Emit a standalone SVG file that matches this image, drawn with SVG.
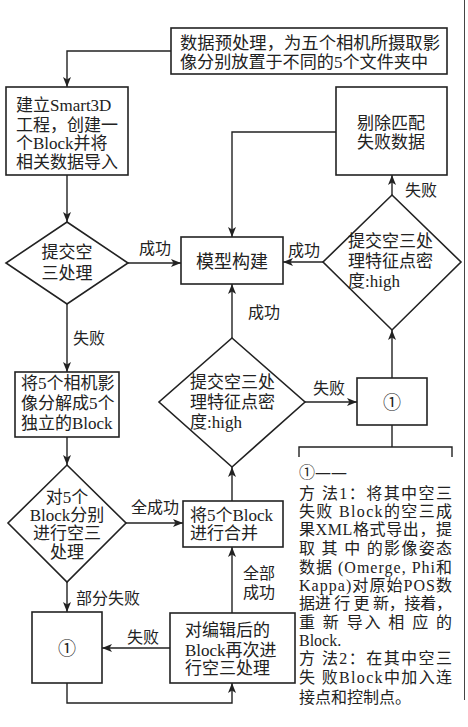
<svg xmlns="http://www.w3.org/2000/svg" width="468" height="727" viewBox="0 0 468 727">
<defs>
<marker id="ah" viewBox="0 0 10 8" refX="10" refY="4" markerWidth="10" markerHeight="8" markerUnits="userSpaceOnUse" orient="auto">
<path d="M0,0 L10,4 L0,8 L2.5,4 Z" fill="#222"/>
</marker>
<style>
.n{fill:#fff;stroke:#222;stroke-width:1.6}
.c{fill:none;stroke:#222;stroke-width:1.4}
.a{marker-end:url(#ah)}
text{font-family:"Liberation Serif","Noto Sans CJK SC",serif;font-size:17px;fill:#222}
.m{text-anchor:middle}
.l{font-size:16px}
.s{font-size:16px}
</style>
</defs>
<rect width="468" height="727" fill="#fff"/>
<line x1="464.5" y1="0" x2="464.5" y2="700" stroke="#444" stroke-width="1"/>

<g id="connectors">
<path class="c a" d="M171,51 H67 V87"/>
<path class="c a" d="M67,175 V222"/>
<path class="c a" d="M128,263 H181"/>
<path class="c a" d="M67,304 V372"/>
<path class="c a" d="M67,437 V465"/>
<path class="c a" d="M126,523 H183"/>
<path class="c a" d="M67,582 V612"/>
<path class="c a" d="M170,648 H102"/>
<path class="c a" d="M67,683 V703 H232 V683"/>
<path class="c a" d="M232,613 V547"/>
<path class="c a" d="M232,501 V467"/>
<path class="c a" d="M232,338 V284"/>
<path class="c a" d="M305,402 H357"/>
<path class="c a" d="M392,378 V330"/>
<path class="c a" d="M323,262 H283"/>
<path class="c a" d="M392,195 V175"/>
<path class="c a" d="M336,132 H232 V237"/>
<path class="c" d="M392,425 V447 M299,457 V447 H452 V457"/>
<text class="s" x="139" y="254">成功</text>
<text class="s" x="288" y="256">成功</text>
<text class="s" x="405" y="196">失败</text>
<text class="s" x="248" y="318">成功</text>
<text class="s" x="73" y="344">失败</text>
<text class="s" x="313" y="394">失败</text>
<text class="s" x="131" y="513">全成功</text>
<text class="s" x="76" y="604">部分失败</text>
<text class="s" x="127" y="643">失败</text>
<text class="s" x="243" y="579">全部</text>
<text class="s" x="243" y="598">成功</text>
</g>

<g id="n_pre">
<rect class="n" x="171" y="28" width="276" height="46"/>
<text x="180" y="49" textLength="260" lengthAdjust="spacingAndGlyphs">数据预处理，为五个相机所摄取影</text>
<text x="180" y="68" textLength="248" lengthAdjust="spacingAndGlyphs">像分别放置于不同的5个文件夹中</text>
</g>

<g id="n_create">
<rect class="n" x="6" y="87" width="122" height="88"/>
<text x="16" y="111">建立Smart3D</text>
<text x="16" y="131">工程，创建一</text>
<text x="16" y="149">个Block并将</text>
<text x="16" y="168">相关数据导入</text>
</g>

<g id="n_remove">
<rect class="n" x="336" y="87" width="111" height="88"/>
<text class="m" x="391" y="129">剔除匹配</text>
<text class="m" x="391" y="148">失败数据</text>
</g>

<g id="n_d1">
<polygon class="n" points="67,222 128,263 67,304 6,263"/>
<text class="m" x="67" y="258">提交空</text>
<text class="m" x="67" y="279">三处理</text>
</g>

<g id="n_model">
<rect class="n" x="181" y="237" width="102" height="47"/>
<text class="m" x="232" y="268" style="font-size:18px">模型构建</text>
</g>

<g id="n_d2">
<polygon class="n" points="392,195 461,262 392,330 323,262"/>
<text x="348" y="247">提交空三处</text>
<text x="348" y="267">理特征点密</text>
<text x="348" y="287">度:high</text>
</g>

<g id="n_split">
<rect class="n" x="15" y="372" width="104" height="65"/>
<text x="21" y="389">将5个相机影</text>
<text x="21" y="409">像分解成5个</text>
<text x="21" y="429">独立的Block</text>
</g>

<g id="n_d3">
<polygon class="n" points="232,338 305,402 232,467 159,402"/>
<text x="190" y="388">提交空三处</text>
<text x="190" y="408">理特征点密</text>
<text x="190" y="428">度:high</text>
</g>

<g id="n_c1">
<rect class="n" x="357" y="378" width="70" height="47"/>
<text class="m" x="392" y="409" style="font-family:'DejaVu Serif','Noto Sans CJK SC',serif;font-size:18px">①</text>
</g>

<g id="n_d4">
<polygon class="n" points="67,465 126,523 67,582 8,523"/>
<text class="m" x="67" y="503">对5个</text>
<text class="m" x="67" y="521">Block分别</text>
<text class="m" x="67" y="539">进行空三</text>
<text class="m" x="67" y="558">处理</text>
</g>

<g id="n_merge">
<rect class="n" x="183" y="501" width="100" height="46"/>
<text x="190" y="521">将5个Block</text>
<text x="190" y="539">进行合并</text>
</g>

<g id="n_c2">
<rect class="n" x="32" y="612" width="70" height="71"/>
<text class="m" x="67" y="655" style="font-family:'DejaVu Serif','Noto Sans CJK SC',serif;font-size:18px">①</text>
</g>

<g id="n_redo">
<rect class="n" x="170" y="613" width="125" height="70"/>
<text x="185" y="636">对编辑后的</text>
<text x="185" y="656">Block再次进</text>
<text x="185" y="674">行空三处理</text>
</g>

<g id="n_note">
<text class="l" x="299" y="478" style="font-family:'DejaVu Serif','Noto Sans CJK SC',serif">①——</text>
<text class="l" x="299" y="499" textLength="153" lengthAdjust="spacing">方 法1：将其中空三</text>
<text class="l" x="299" y="517" textLength="153" lengthAdjust="spacing">失败 Block的空三成</text>
<text class="l" x="299" y="535" textLength="153" lengthAdjust="spacing">果XML格式导出，提</text>
<text class="l" x="299" y="554" textLength="153" lengthAdjust="spacing">取 其 中 的影像姿态</text>
<text class="l" x="299" y="573" textLength="153" lengthAdjust="spacing">数据 (Omerge, Phi和</text>
<text class="l" x="299" y="591" textLength="153" lengthAdjust="spacing">Kappa)对原始POS数</text>
<text class="l" x="299" y="609" textLength="153" lengthAdjust="spacing">据进 行 更 新，接着，</text>
<text class="l" x="299" y="628" textLength="153" lengthAdjust="spacing">重 新 导入 相 应 的</text>
<text class="l" x="299" y="646">Block.</text>
<text class="l" x="299" y="664" textLength="153" lengthAdjust="spacing">方 法2：在其中空三</text>
<text class="l" x="299" y="683" textLength="153" lengthAdjust="spacing">失 败Block中加入连</text>
<text class="l" x="299" y="703">接点和控制点。</text>
</g>
</svg>
